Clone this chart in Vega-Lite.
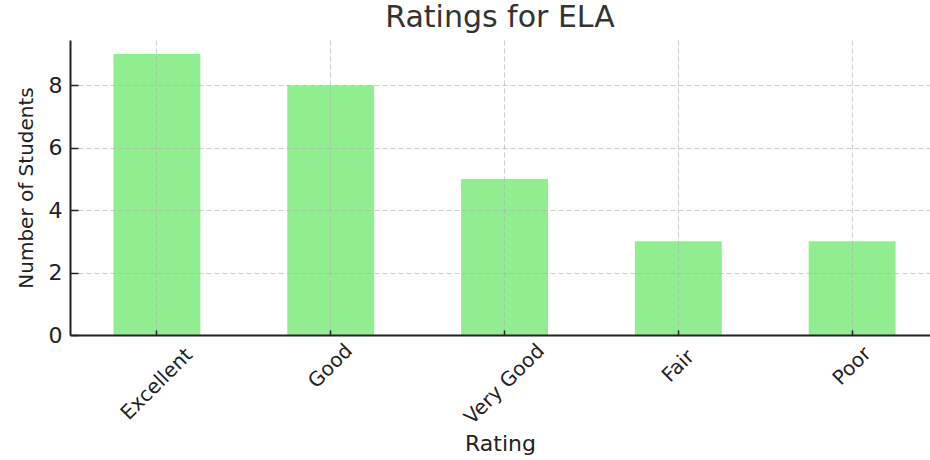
{
  "$schema": "https://vega.github.io/schema/vega-lite/v6.json",
  "autosize": {"type": "none"},
  "padding": {"left": 70, "top": 40, "right": 0, "bottom": 125},
  "width": 860,
  "height": 295,
  "title": {"text": "Ratings for ELA", "font": "DejaVu Sans", "fontSize": 30, "fontWeight": "normal", "color": "#333333", "anchor": "middle", "offset": 7},
  "config": {"view": {"stroke": null}},
  "data": {"values": [
    {"Rating": "Excellent", "Students": 9},
    {"Rating": "Good", "Students": 8},
    {"Rating": "Very Good", "Students": 5},
    {"Rating": "Fair", "Students": 3},
    {"Rating": "Poor", "Students": 3}
  ]},
  "mark": {"type": "bar", "color": "#90EE90"},
  "encoding": {
    "x": {
      "field": "Rating", "type": "nominal", "sort": null,
      "scale": {"paddingInner": 0.5, "paddingOuter": 0.224, "align": 0.558},
      "axis": {
        "title": "Rating", "titleFont": "DejaVu Sans", "titleFontSize": 22, "titleFontWeight": "normal", "titleColor": "#222222",
        "titleY": 115, "titleBaseline": "alphabetic",
        "labelAngle": -45, "labelAlign": "center", "labelBaseline": "middle",
        "labelFont": "DejaVu Sans", "labelFontSize": 20, "labelColor": "#222222",
        "labelPadding": {"expr": "15 + (length(datum.label)*10.2+18)*0.354"},
        "bandPosition": 0.5,
        "tickSize": -5, "tickColor": "#222222", "tickWidth": 1.5,
        "domainColor": "#222222", "domainWidth": 2,
        "grid": true, "gridColor": "#b0b0b0", "gridOpacity": 0.65, "gridDash": [5, 3], "gridWidth": 1,
        "zindex": 1
      }
    },
    "y": {
      "field": "Students", "type": "quantitative",
      "scale": {"domain": [0, 9.45], "nice": false},
      "axis": {
        "title": "Number of Students", "titleFont": "DejaVu Sans", "titleFontSize": 20, "titleFontWeight": "normal", "titleColor": "#222222",
        "titleX": -38, "titleBaseline": "alphabetic",
        "values": [0, 2, 4, 6, 8],
        "labelFont": "DejaVu Sans", "labelFontSize": 22, "labelColor": "#222222",
        "labelPadding": 16,
        "tickSize": -8, "tickColor": "#222222", "tickWidth": 1.5,
        "domainColor": "#222222", "domainWidth": 2,
        "grid": true, "gridColor": "#b0b0b0", "gridOpacity": 0.65, "gridDash": [5, 3], "gridWidth": 1,
        "zindex": 1
      }
    }
  }
}
